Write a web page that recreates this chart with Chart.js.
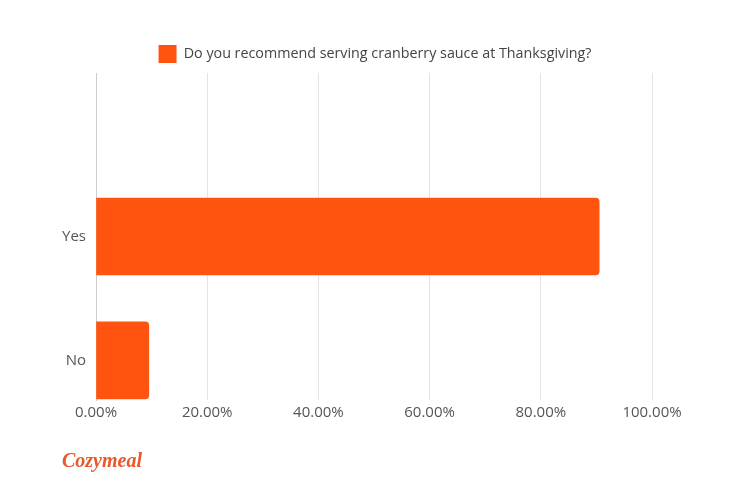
<!DOCTYPE html>
<html>
<head>
<meta charset="utf-8">
<script src="https://cdn.jsdelivr.net/npm/chart.js@4.4.0/dist/chart.umd.min.js"></script>
<style>
    html, body { margin: 0; padding: 0; background: #fff; }
    #wrap { position: relative; width: 750px; height: 500px; }
    #logo {
        position: absolute;
        left: 62px;
        top: 449px;
        font-family: "Liberation Serif", serif;
        font-style: italic;
        font-weight: bold;
        font-size: 20px;
        color: #e8582a;
    }
</style>
</head>
<body>
<div id="wrap">
    <canvas id="myChart" width="750" height="500"></canvas>
    <div id="logo">Cozymeal</div>
</div>
<script>
const categories = ["", "Yes", "No"];
const shares = [null, 90.5, 9.5];
const xTicks = [0, 20, 40, 60, 80, 100];
const seriesName = "Do you recommend serving cranberry sauce at Thanksgiving?";

const ORANGE = "#ff5410";

function init() {
    const ctx = document.getElementById("myChart");
    const points = shares.map((v, i) => ({ x: v, y: i }));

    new Chart(ctx, {
        type: "bar",
        data: {
            datasets: [
                {
                    label: seriesName,
                    data: points,
                    backgroundColor: ORANGE,
                    borderWidth: 0,
                    borderRadius: 4,
                    borderSkipped: "start",
                    barThickness: 77,
                },
            ],
        },
        options: {
            indexAxis: "y",
            responsive: false,
            animation: false,
            layout: { padding: { top: 36, right: 0, left: 0, bottom: 0 } },
            scales: {
                x: {
                    type: "linear",
                    min: 0,
                    max: 100,
                    afterFit: (scale) => { scale.height = 100; },
                    afterBuildTicks: (scale) => { scale.ticks = xTicks.map((v) => ({ value: v })); },
                    grid: { color: "#e4e4e4", drawTicks: false },
                    border: { display: false },
                    ticks: {
                        padding: 4,
                        color: "#555",
                        font: { family: "Open Sans", size: 15 },
                        callback: (value) => value.toFixed(2) + "%",
                    },
                },
                y: {
                    type: "linear",
                    reverse: true,
                    offset: false,
                    min: -0.32,
                    max: 2.32,
                    afterFit: (scale) => { scale.width = 96; },
                    afterBuildTicks: (scale) => { scale.ticks = categories.map((c, i) => ({ value: i })); },
                    grid: { display: false, drawTicks: false },
                    border: { display: true, color: "#cccccc", width: 1 },
                    ticks: {
                        padding: 10,
                        color: "#555",
                        font: { family: "Open Sans", size: 15 },
                        callback: (value) => categories[value],
                    },
                },
                // empty right-hand axis, only keeps the space on the right
                yRight: {
                    type: "linear",
                    position: "right",
                    afterFit: (scale) => { scale.width = 98; },
                    grid: { display: false, drawTicks: false },
                    border: { display: false },
                    ticks: { display: false },
                },
            },
            plugins: {
                legend: {
                    position: "top",
                    labels: {
                        boxWidth: 18,
                        boxHeight: 18,
                        padding: 9,
                        color: "#444",
                        font: { family: "Open Sans", size: 14.3 },
                    },
                },
                tooltip: { enabled: false },
            },
        },
    });
}

init();
</script>
</body>
</html>
